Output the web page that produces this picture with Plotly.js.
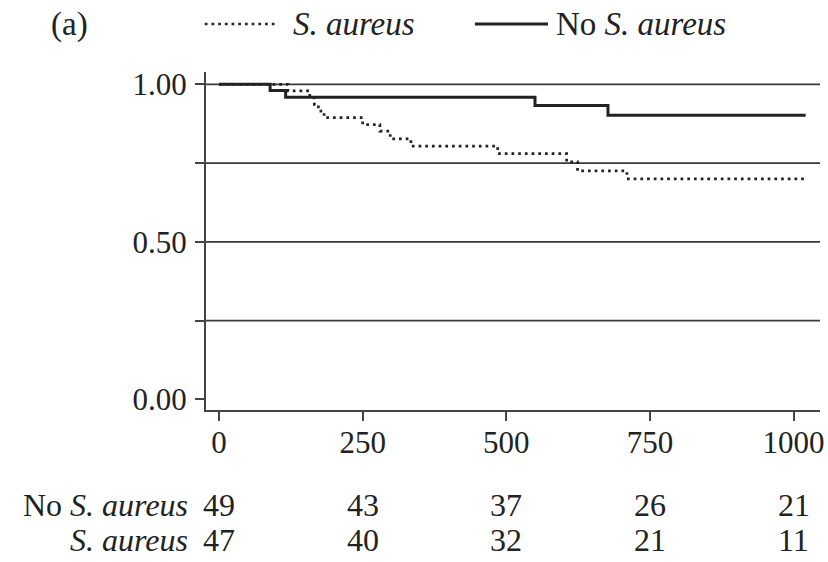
<!DOCTYPE html>
<html>
<head>
<meta charset="utf-8">
<script src="https://cdn.plot.ly/plotly-3.0.1.min.js"></script>
<style>html,body{margin:0;padding:0;background:#fff;}#chart{width:828px;height:562px;}</style>
</head>
<body>
<div id="chart"></div>
<script>
// Kaplan-Meier estimates
const noSaTime = [0, 89, 116, 550, 677, 1021];
const noSaSurv = [1, 0.980, 0.959, 0.933, 0.902, 0.902];
const saTime = [0, 120, 158, 166, 173, 183, 250, 280, 298, 334, 485, 605, 624, 710, 1023];
const saSurv = [1, 0.979, 0.957, 0.936, 0.915, 0.894, 0.872, 0.851, 0.827, 0.804, 0.780, 0.754, 0.725, 0.700, 0.700];

// Number at risk table
const riskTimes = [0, 250, 500, 750, 1000];
const noSaRisk = [49, 43, 37, 26, 21];
const saRisk = [47, 40, 32, 21, 11];

// Axis ticks
const xTickVals = [0, 250, 500, 750, 1000];
const xTickText = ['0', '250', '500', '750', '1000'];
const yTickVals = [0, 0.25, 0.5, 0.75, 1];
const yTickText = ['0.00', '', '0.50', '', '1.00'];
const gridVals = [0.25, 0.5, 0.75, 1];

const FONT = '"Liberation Serif"';
const INK = '#222';
const FS = 31;
const FS_LEG = 33;
const FS_TAB = 32;
const DOT = '2.7px,4px';

const traces = [
  {x: saTime, y: saSurv, type: 'scatter', mode: 'lines', line: {shape: 'hv', color: INK, width: 2.7, dash: DOT}, hoverinfo: 'skip', showlegend: false},
  {x: noSaTime, y: noSaSurv, type: 'scatter', mode: 'lines', line: {shape: 'hv', color: INK, width: 3}, hoverinfo: 'skip', showlegend: false}
];

const shapes = gridVals.map(v => ({type: 'line', xref: 'paper', yref: 'y', x0: 0, x1: 1, y0: v, y1: v, line: {color: '#3a3a3a', width: 1.7}, layer: 'below'}));
// legend samples
shapes.push({type: 'line', xref: 'paper', yref: 'paper', x0: -0.002, x1: 0.117, y0: 1.142, y1: 1.142, line: {color: INK, width: 2.7, dash: DOT}});
shapes.push({type: 'line', xref: 'paper', yref: 'paper', x0: 0.438, x1: 0.557, y0: 1.142, y1: 1.142, line: {color: INK, width: 3}});

const annotations = [];
annotations.push({xref: 'paper', yref: 'paper', x: -0.222, y: 1.142, xanchor: 'center', yanchor: 'middle', text: '(a)', showarrow: false, font: {family: FONT, size: FS_LEG, color: INK}});
annotations.push({xref: 'paper', yref: 'paper', x: 0.138, y: 1.142, xanchor: 'left', yanchor: 'middle', text: '<i>S. aureus</i>', showarrow: false, font: {family: FONT, size: FS_LEG, color: INK}});
annotations.push({xref: 'paper', yref: 'paper', x: 0.566, y: 1.142, xanchor: 'left', yanchor: 'middle', text: 'No <i>S. aureus</i>', showarrow: false, font: {family: FONT, size: FS_LEG, color: INK}});
// risk table labels
annotations.push({xref: 'paper', yref: 'paper', x: -0.026, y: -0.281, xanchor: 'right', yanchor: 'middle', text: 'No <i>S. aureus</i>', showarrow: false, font: {family: FONT, size: FS_TAB, color: INK}});
annotations.push({xref: 'paper', yref: 'paper', x: -0.026, y: -0.385, xanchor: 'right', yanchor: 'middle', text: '<i>S. aureus</i>', showarrow: false, font: {family: FONT, size: FS_TAB, color: INK}});
riskTimes.forEach((t, i) => {
  annotations.push({xref: 'x', yref: 'paper', x: t, y: -0.281, xanchor: 'center', yanchor: 'middle', text: String(noSaRisk[i]), showarrow: false, font: {family: FONT, size: FS_TAB, color: INK}});
  annotations.push({xref: 'x', yref: 'paper', x: t, y: -0.385, xanchor: 'center', yanchor: 'middle', text: String(saRisk[i]), showarrow: false, font: {family: FONT, size: FS_TAB, color: INK}});
});

const layout = {
  width: 828, height: 562,
  margin: {l: 206, r: 8, t: 72, b: 152},
  paper_bgcolor: '#fff', plot_bgcolor: '#fff',
  showlegend: false,
  font: {family: FONT, size: FS, color: INK},
  xaxis: {
    range: [-22.6, 1046], tickvals: xTickVals, ticktext: xTickText,
    showgrid: false, zeroline: false, showline: true, linecolor: '#444', linewidth: 2,
    ticks: 'outside', ticklen: 9, tickwidth: 2, tickcolor: '#444',
    ticklabelstandoff: -5,
    tickfont: {family: FONT, size: FS, color: INK}
  },
  yaxis: {
    range: [-0.034, 1.039], tickvals: yTickVals, ticktext: yTickText,
    showgrid: false, zeroline: false, showline: true, linecolor: '#444', linewidth: 2,
    ticks: 'outside', ticklen: 9, tickwidth: 2, tickcolor: '#444',
    ticklabelstandoff: 2,
    tickfont: {family: FONT, size: FS, color: INK}
  },
  shapes: shapes,
  annotations: annotations
};

Plotly.newPlot('chart', traces, layout, {staticPlot: true, displayModeBar: false});
</script>
</body>
</html>
